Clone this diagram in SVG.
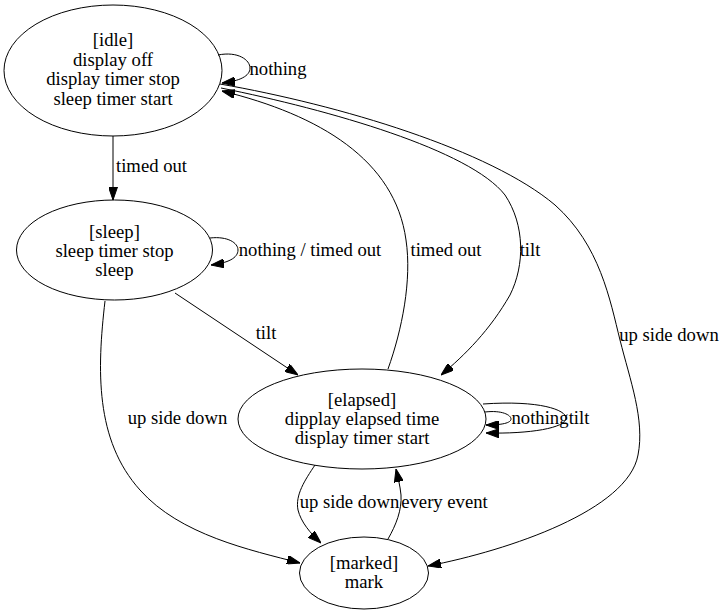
<svg xmlns="http://www.w3.org/2000/svg" width="725" height="614" viewBox="0 0 725 614">
<style>
.n ellipse{fill:none;stroke:#000;stroke-width:1}
text{font-family:"Liberation Serif","Times New Roman",serif;font-size:18.67px;fill:#000;text-anchor:middle}
.e path{fill:none;stroke:#000;stroke-width:1;marker-end:url(#ah)}
</style>
<defs>
<marker id="ah" viewBox="0 0 13 9" refX="13" refY="4.5" markerWidth="13" markerHeight="9" markerUnits="userSpaceOnUse" orient="auto">
<path d="M0,0 L13,4.5 L0,9 z" fill="#000" stroke="#000" stroke-width="1"/>
</marker>
</defs>
<rect width="725" height="614" fill="#fff"/>
<g id="edges" class="e">
<path d="M113,136 L113,200"/>
<path d="M218,55 C238,51 250,60 250,68 C250,76 240,81 222,83"/>
<path d="M210,238 C228,236 238,243 238,250 C238,258 228,263 211,265"/>
<path d="M175,293 L298,375"/>
<path d="M105,301 C97,370 95,440 140,490 C180,535 250,550 300,563"/>
<path d="M388,369 C402,330 412,280 406,240 C395,160 320,115 222,91"/>
<path d="M221,88 C330,110 470,150 505,195 C525,225 525,265 510,295 C490,330 465,355 441,375"/>
<path d="M220,84 C340,105 490,150 555,205 C600,245 610,300 620,340 C630,380 645,420 638,455 C628,510 510,550 428,566"/>
<path d="M485,412 C502,410 511,415 511,419 C511,423 502,425 486,425"/>
<path d="M483,404 C540,400 566,410 566,418 C566,428 530,434 486,433"/>
<path d="M315,465 C305,480 295,495 298,510 C301,522 310,533 321,543"/>
<path d="M388,539 C396,525 402,510 401,495 C400,485 398,478 396,469"/>
<text x="151.5" y="172">timed out</text>
<text x="278" y="75">nothing</text>
<text x="310" y="256">nothing / timed out</text>
<text x="266" y="339">tilt</text>
<text x="177.5" y="424">up side down</text>
<text x="446" y="256">timed out</text>
<text x="530" y="256">tilt</text>
<text x="669" y="341">up side down</text>
<text x="540" y="424">nothing</text>
<text x="579" y="424">tilt</text>
<text x="349.5" y="508">up side down</text>
<text x="444.5" y="508">every event</text>
</g>
<g id="idle" class="n">
<ellipse cx="113" cy="70.5" rx="109" ry="65.5"/>
<text x="113" y="46">[idle]</text>
<text x="113" y="65.5">display off</text>
<text x="113" y="85">display timer stop</text>
<text x="113" y="104.5">sleep timer start</text>
</g>
<g id="sleep" class="n">
<ellipse cx="114.5" cy="250" rx="98" ry="50"/>
<text x="114.5" y="237.5">[sleep]</text>
<text x="114.5" y="257">sleep timer stop</text>
<text x="114.5" y="276">sleep</text>
</g>
<g id="elapsed" class="n">
<ellipse cx="362" cy="419" rx="124" ry="50"/>
<text x="362" y="405.5">[elapsed]</text>
<text x="362" y="425">dipplay elapsed time</text>
<text x="362" y="444">display timer start</text>
</g>
<g id="marked" class="n">
<ellipse cx="364" cy="573" rx="64.5" ry="36"/>
<text x="364" y="568.5">[marked]</text>
<text x="364" y="588">mark</text>
</g>
</svg>
